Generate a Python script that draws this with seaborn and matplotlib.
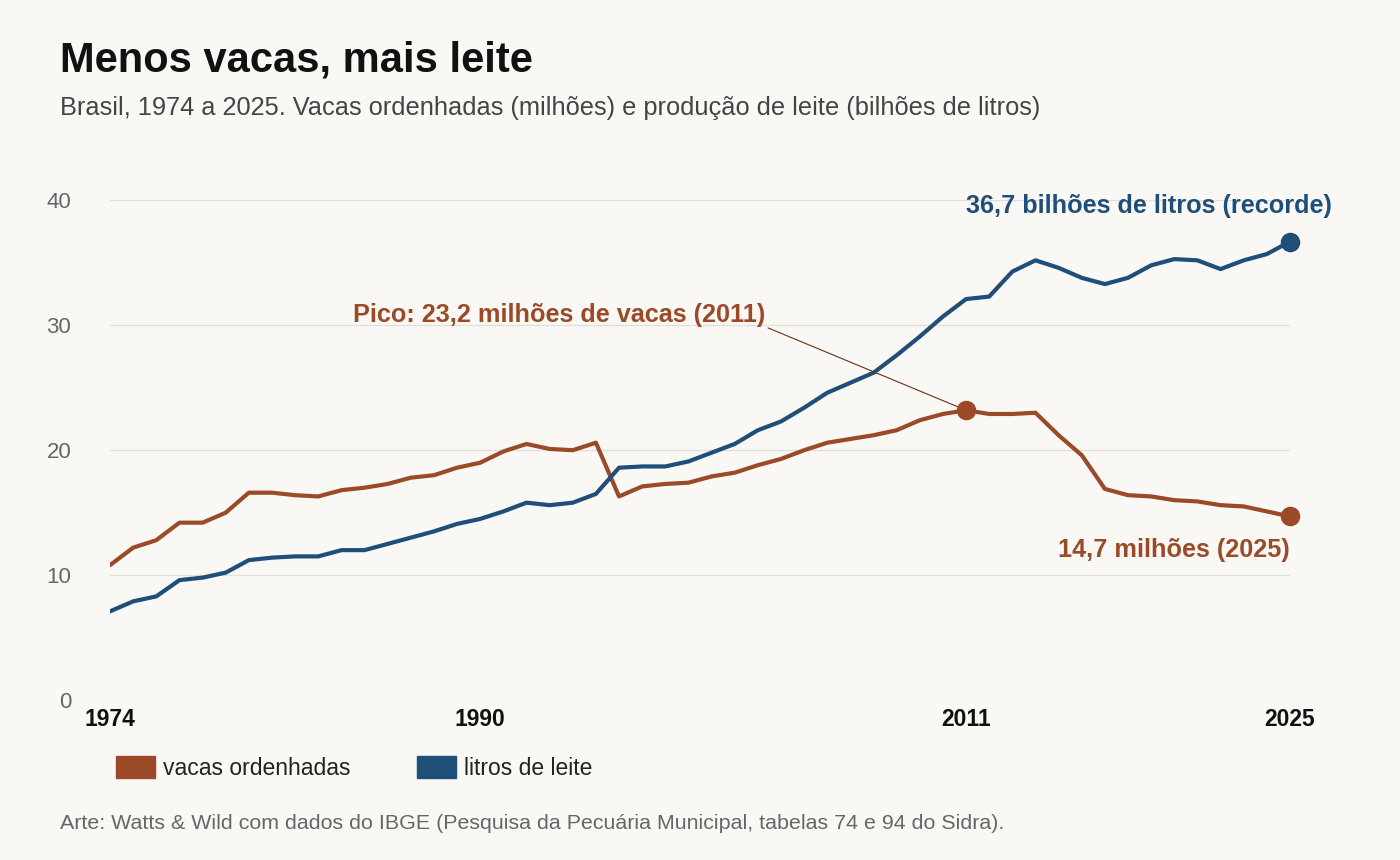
import matplotlib
matplotlib.use("Agg")
import matplotlib.pyplot as plt
import seaborn as sns
import pandas as pd
from matplotlib.patches import Patch

years = list(range(1974, 2026))
vacas = [10.8,12.2,12.8,14.2,14.2,15.0,16.6,16.6,16.4,16.3,16.8,17.0,17.3,17.8,18.0,18.6,19.0,19.9,20.5,20.1,
         20.0,20.6,16.3,17.1,17.3,17.4,17.9,18.2,18.8,19.3,20.0,20.6,20.9,21.2,21.6,22.4,22.9,23.2,22.9,22.9,
         23.0,21.2,19.6,16.9,16.4,16.3,16.0,15.9,15.6,15.5,15.1,14.7]
leite = [7.1,7.9,8.3,9.6,9.8,10.2,11.2,11.4,11.5,11.5,12.0,12.0,12.5,13.0,13.5,14.1,14.5,15.1,15.8,15.6,
         15.8,16.5,18.6,18.7,18.7,19.1,19.8,20.5,21.6,22.3,23.4,24.6,25.4,26.2,27.6,29.1,30.7,32.1,32.3,34.3,
         35.2,34.6,33.8,33.3,33.8,34.8,35.3,35.2,34.5,35.2,35.7,36.7]
xticks = [1974, 1990, 2011, 2025]
yticks = [0, 10, 20, 30, 40]

BROWN = "#9a4a26"
BLUE = "#1f4e79"
BG = "#faf8f4"

sns.set_theme(style="white")
plt.rcParams['font.family'] = ['Liberation Sans', 'DejaVu Sans']

df = pd.DataFrame({"ano": years * 2, "valor": vacas + leite,
                   "serie": ["vacas ordenhadas"] * len(years) + ["litros de leite"] * len(years)})

fig = plt.figure(figsize=(14, 8.6), dpi=100, facecolor=BG)
ax = fig.add_axes([0.0786, 0.186, 0.8428, 0.581], facecolor=BG)
sns.lineplot(data=df, x="ano", y="valor", hue="serie", palette={"vacas ordenhadas": BROWN, "litros de leite": BLUE},
             linewidth=3, ax=ax, legend=False)
ax.set_xlim(1974, 2025)
ax.set_ylim(0, 40)
ax.set_yticks(yticks)
ax.set_xticks(xticks)
ax.set_xticklabels([str(t) for t in xticks], fontsize=16.5, fontweight="bold", color="#111111")
ax.set_yticklabels([str(t) for t in yticks], fontsize=16, color="#666666")
ax.tick_params(axis="y", length=0, pad=28)
ax.tick_params(axis="x", length=0, pad=6)
for yv in yticks:
    ax.axhline(yv, color="#e2dfda", lw=0.9, zorder=0)
for s in ax.spines.values():
    s.set_visible(False)
ax.set_xlabel("")
ax.set_ylabel("")

i11 = years.index(2011)
ax.scatter([2011], [vacas[i11]], s=170, color=BROWN, zorder=5, clip_on=False)
ax.scatter([2025], [vacas[-1]], s=170, color=BROWN, zorder=5, clip_on=False)
ax.scatter([2025], [leite[-1]], s=170, color=BLUE, zorder=5, clip_on=False)

ax.annotate("Pico: 23,2 milhões de vacas (2011)", xy=(2011, vacas[i11]), xytext=(2002.3, 29.9),
            ha="right", va="bottom", fontsize=18.2, fontweight="bold", color=BROWN,
            arrowprops=dict(arrowstyle="-", color="#6b2e14", lw=0.8, shrinkA=0, shrinkB=6,
                            relpos=(1, 0)))
ax.text(2026.8, 38.6, "36,7 bilhões de litros (recorde)", ha="right", va="bottom",
        fontsize=18.2, fontweight="bold", color=BLUE, clip_on=False)
ax.text(2025, 12.0, "14,7 milhões (2025)", ha="right", va="center",
        fontsize=18.2, fontweight="bold", color=BROWN)

fig.text(0.043, 0.930, "Menos vacas, mais leite", fontsize=30, fontweight="bold", color="#111111", va="center")
fig.text(0.043, 0.874, "Brasil, 1974 a 2025. Vacas ordenhadas (milhões) e produção de leite (bilhões de litros)",
         fontsize=18.3, color="#444444", va="center")
fig.text(0.043, 0.042, "Arte: Watts & Wild com dados do IBGE (Pesquisa da Pecuária Municipal, tabelas 74 e 94 do Sidra).",
         fontsize=15.4, color="#666666", va="center")

handles = [Patch(color=BROWN, label="vacas ordenhadas"), Patch(color=BLUE, label="litros de leite")]
fig.legend(handles=handles, loc="center left", bbox_to_anchor=(0.068, 0.107), ncol=2, frameon=False,
           fontsize=16.5, handlelength=1.7, handleheight=1.1, columnspacing=2.9, handletextpad=0.35,
           labelcolor="#222222")

fig.savefig("out.png", dpi=100, facecolor=BG)
